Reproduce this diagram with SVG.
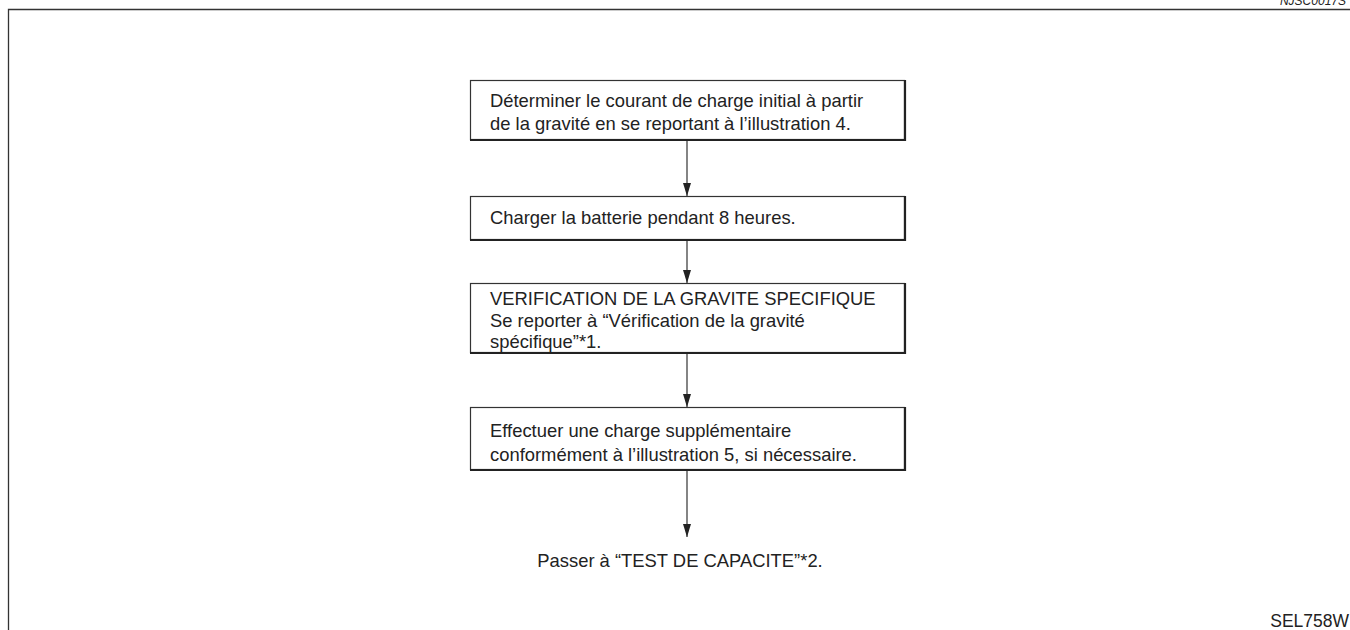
<svg xmlns="http://www.w3.org/2000/svg" width="1350" height="630" viewBox="0 0 1350 630">
<defs>
<style>
.t{font-family:"Liberation Sans",Arial,sans-serif;font-size:18.4px;fill:#222}
.box{fill:#fff;stroke:#333;stroke-width:1.2}
.sh{fill:none;stroke:#222;stroke-width:2.2}
.c{stroke:#333;stroke-width:1.2;fill:none}
</style>
<marker id="ah" markerWidth="14" markerHeight="9" refX="13" refY="4.5" orient="auto" markerUnits="userSpaceOnUse">
<path d="M0,0.5 L13,4.5 L0,8.5 Z" fill="#222"/>
</marker>
</defs>
<rect width="1350" height="630" fill="#fff"/>
<path d="M8.5,630 V9.5 H1350" fill="none" stroke="#333" stroke-width="1.3"/>
<text x="1346" y="5" class="t" style="font-size:12px;font-style:italic" text-anchor="end">NJSC0017S</text>
<text x="1349" y="627" class="t" style="font-size:17.5px" text-anchor="end">SEL758W</text>
<g id="connectors">
<line class="c" x1="687" y1="141" x2="687" y2="196" marker-end="url(#ah)"/>
<line class="c" x1="687" y1="241" x2="687" y2="283" marker-end="url(#ah)"/>
<line class="c" x1="687" y1="354" x2="687" y2="407" marker-end="url(#ah)"/>
<line class="c" x1="687" y1="471" x2="687" y2="537" marker-end="url(#ah)"/>
</g>
<g id="n1">
<rect class="box" x="470.5" y="80.5" width="434" height="59"/>
<path class="sh" d="M905,80 V140 H470"/>
<text class="t" x="490" y="107">Déterminer le courant de charge initial à partir</text>
<text class="t" x="490" y="130">de la gravité en se reportant à l’illustration 4.</text>
</g>
<g id="n2">
<rect class="box" x="470.5" y="196.5" width="434" height="43"/>
<path class="sh" d="M905,196 V240 H470"/>
<text class="t" x="490" y="224">Charger la batterie pendant 8 heures.</text>
</g>
<g id="n3">
<rect class="box" x="470.5" y="283.5" width="434" height="69"/>
<path class="sh" d="M905,283 V353 H470"/>
<text class="t" x="490" y="305">VERIFICATION DE LA GRAVITE SPECIFIQUE</text>
<text class="t" x="490" y="327">Se reporter à “Vérification de la gravité</text>
<text class="t" x="490" y="348">spécifique”*1.</text>
</g>
<g id="n4">
<rect class="box" x="470.5" y="407.5" width="434" height="62"/>
<path class="sh" d="M905,407 V470 H470"/>
<text class="t" x="490" y="437">Effectuer une charge supplémentaire</text>
<text class="t" x="490" y="461">conformément à l’illustration 5, si nécessaire.</text>
</g>
<g id="n5">
<text class="t" x="680" y="567" text-anchor="middle">Passer à “TEST DE CAPACITE”*2.</text>
</g>
</svg>
